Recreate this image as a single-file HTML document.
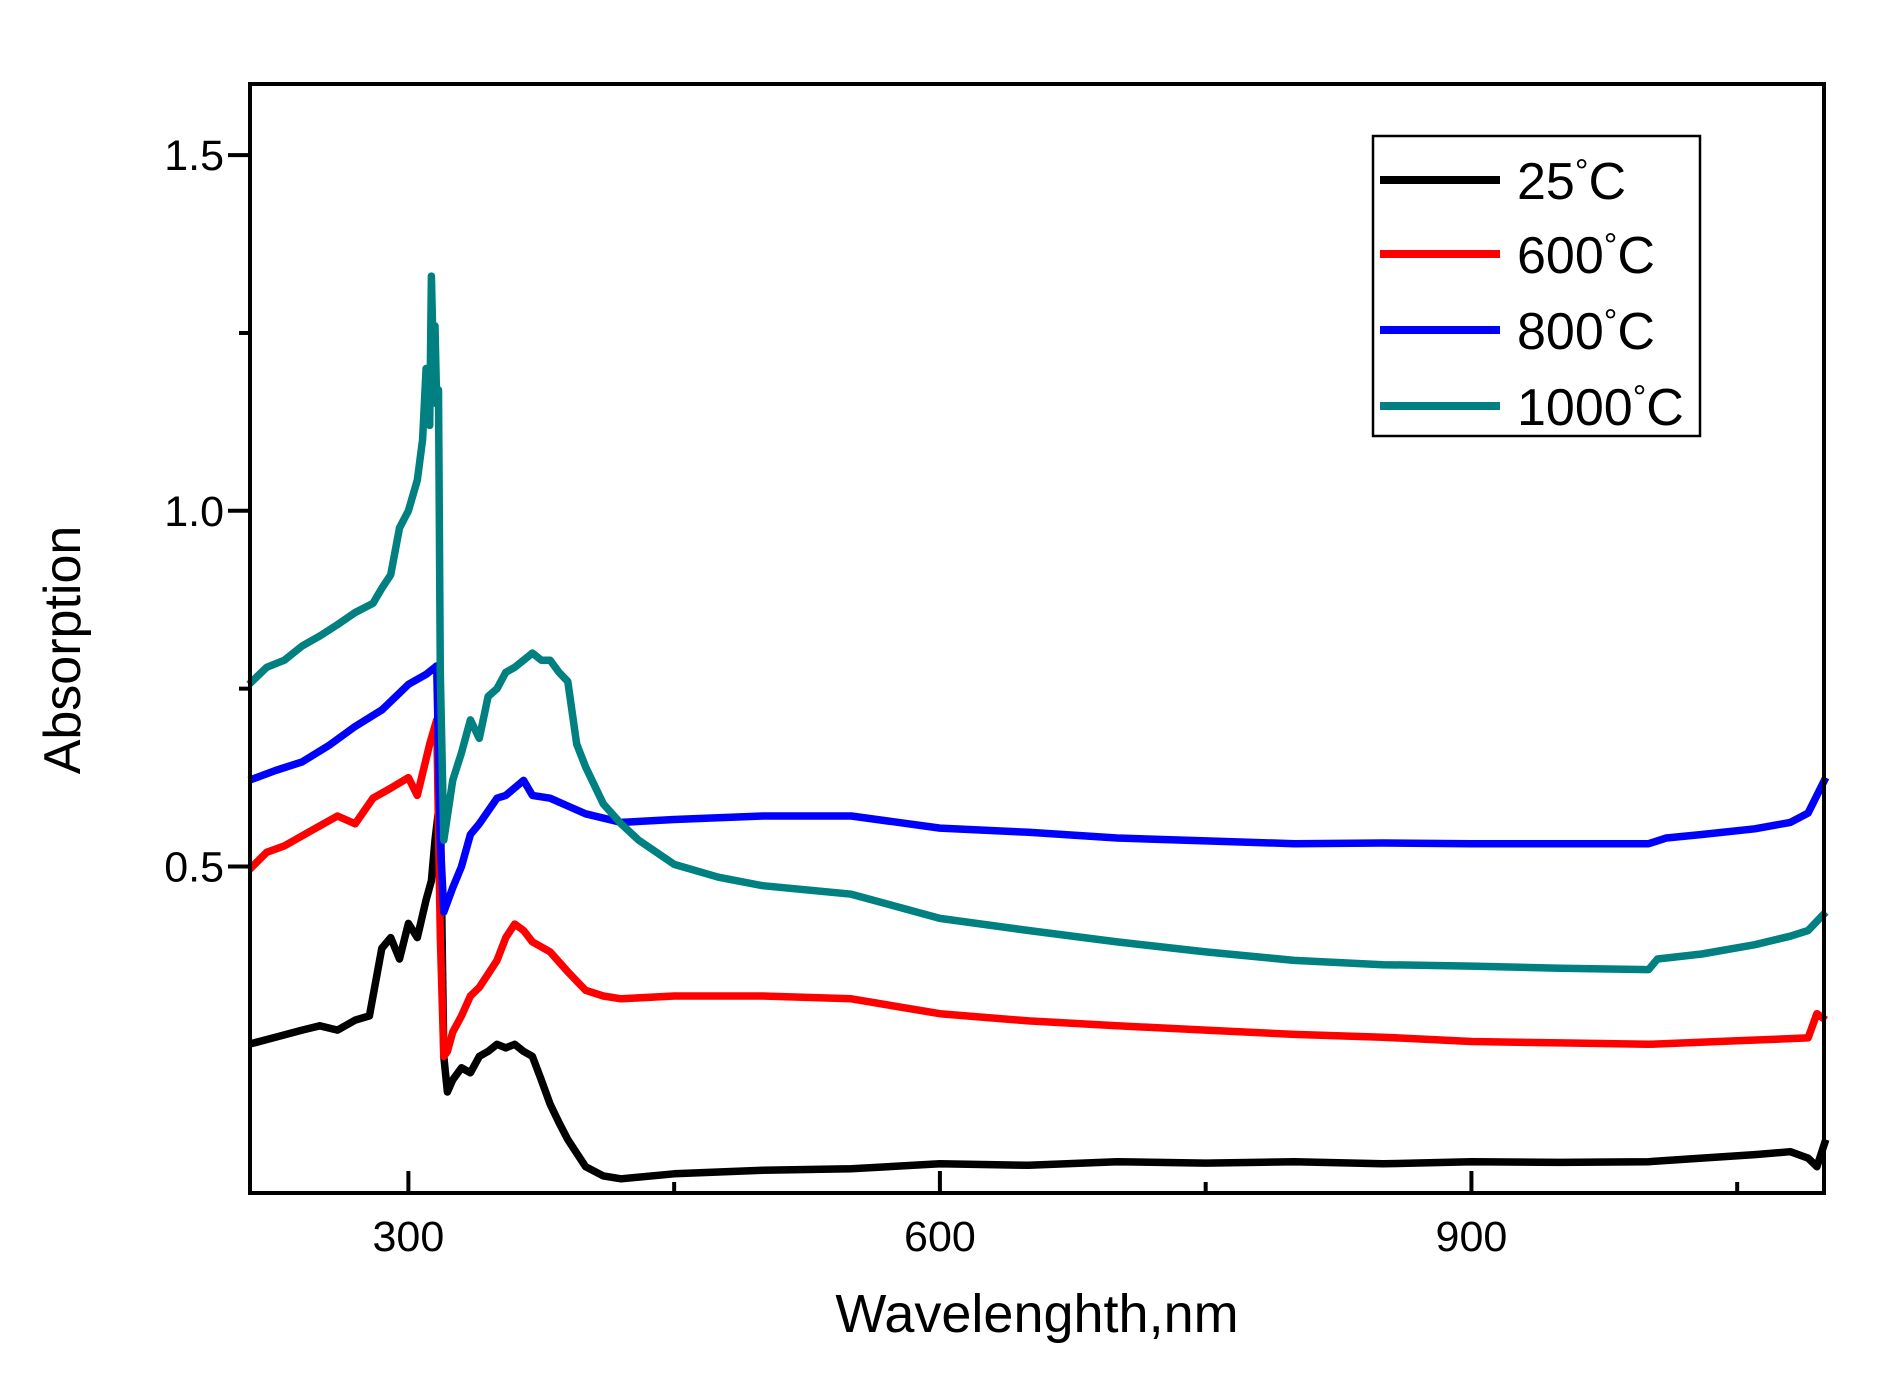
<!DOCTYPE html>
<html><head><meta charset="utf-8"><style>
html,body{margin:0;padding:0;background:#fff;}
svg{display:block;font-family:"Liberation Sans",sans-serif;}
</style></head><body>
<svg id="chart" width="1882" height="1397" viewBox="0 0 1882 1397" xmlns="http://www.w3.org/2000/svg">
<g id="series"></g>
<rect x="250" y="84" width="1574" height="1109" fill="none" stroke="#000" stroke-width="4"/>
<g id="ticks"></g>
<text x="1037" y="1332" font-size="54" text-anchor="middle">Wavelenghth,nm</text>
<text transform="translate(80,650) rotate(-90)" font-size="52" text-anchor="middle">Absorption</text>
<g>
<rect x="1373" y="136" width="327" height="300" fill="#fff" stroke="#000" stroke-width="2.5"/>
<g id="legend-entries"></g>
</g>
</svg>
<script>
const xTicks=[300,450,600,750,900,1050];
const xLabels=[300,600,900];
const yTicks=[0.5,0.75,1.0,1.25,1.5];
const yLabels=["0.5","1.0","1.5"];
const yLabelVals=[0.5,1.0,1.5];
const seriesNames=["25","600","800","1000"];
const seriesColors=["#000000","#ff0000","#0000ff","#008080"];
const wl0=[210,225,240,250,260,270,278,285,290,295,300,305,310,313,315,318,319,320,322,325,330,335,340,345,350,355,360,365,370,375,380,385,390,400,410,420,450,500,550,600,650,700,750,800,850,900,950,1000,1030,1060,1080,1090,1095,1100];
const v25=[0.25,0.26,0.27,0.276,0.27,0.284,0.29,0.385,0.40,0.37,0.42,0.40,0.453,0.48,0.537,0.60,0.40,0.233,0.183,0.20,0.217,0.21,0.233,0.24,0.25,0.245,0.25,0.24,0.233,0.20,0.166,0.14,0.116,0.078,0.065,0.061,0.068,0.073,0.075,0.082,0.080,0.085,0.083,0.085,0.082,0.085,0.084,0.085,0.09,0.095,0.099,0.09,0.078,0.116];
const wl1=[210,220,230,245,260,270,280,290,300,305,312,316,318,320,322,325,330,335,340,350,355,360,365,370,380,390,400,410,420,450,500,550,600,650,700,750,800,850,900,950,1000,1050,1090,1095,1100];
const v600=[0.495,0.52,0.529,0.55,0.571,0.56,0.596,0.61,0.625,0.60,0.672,0.706,0.402,0.233,0.24,0.267,0.29,0.318,0.33,0.368,0.40,0.419,0.41,0.394,0.38,0.352,0.326,0.318,0.314,0.318,0.318,0.314,0.293,0.283,0.276,0.27,0.264,0.26,0.254,0.252,0.25,0.255,0.259,0.293,0.284];
const wl2=[210,225,240,255,270,285,300,310,316,318,320,325,330,335,340,350,355,365,370,380,390,400,420,450,500,550,600,650,700,750,800,850,900,950,1000,1010,1030,1060,1080,1090,1100];
const v800=[0.621,0.635,0.647,0.67,0.697,0.72,0.756,0.77,0.782,0.537,0.436,0.47,0.50,0.545,0.56,0.596,0.60,0.621,0.60,0.596,0.585,0.574,0.562,0.566,0.571,0.571,0.554,0.548,0.540,0.536,0.532,0.533,0.532,0.532,0.532,0.54,0.545,0.553,0.562,0.575,0.625];
const wl3=[210,220,230,240,250,260,270,280,285,290,295,300,305,308,310,312,313,314,315,316,317,318,320,325,330,335,340,345,350,355,360,365,370,375,380,385,390,395,400,410,420,430,450,475,500,550,600,650,700,750,800,850,900,950,1000,1005,1030,1060,1080,1090,1100];
const v1000=[0.756,0.78,0.79,0.81,0.824,0.84,0.857,0.87,0.891,0.91,0.976,1.0,1.043,1.10,1.20,1.12,1.33,1.22,1.26,1.15,1.17,0.773,0.537,0.621,0.66,0.706,0.68,0.739,0.75,0.773,0.78,0.79,0.80,0.79,0.79,0.773,0.76,0.672,0.64,0.588,0.56,0.537,0.503,0.485,0.473,0.461,0.427,0.41,0.394,0.38,0.368,0.362,0.36,0.357,0.355,0.37,0.377,0.39,0.402,0.41,0.436];
const xs=[wl0,wl1,wl2,wl3], ys=[v25,v600,v800,v1000];
const X0=250,X1=1824,Y0=1193,Y1=84,xmin=210.6,xmax=1099,ymin=0.041,ymax=1.6;
function xScale(v){return X0+(v-xmin)/(xmax-xmin)*(X1-X0);}
function yScale(v){return Y0-(v-ymin)/(ymax-ymin)*(Y0-Y1);}
const NS="http://www.w3.org/2000/svg";
const sg=document.getElementById('series');
for(let s=0;s<4;s++){
  const p=document.createElementNS(NS,'polyline');
  
  
  p.setAttribute('points',xs[s].map((x,i)=>xScale(x).toFixed(1)+','+yScale(ys[s][i]).toFixed(1)).join(' '));
  p.setAttribute('fill','none');p.setAttribute('stroke',seriesColors[s]);
  p.setAttribute('stroke-width','7.5');p.setAttribute('stroke-linejoin','round');
  sg.appendChild(p);
}
const tg=document.getElementById('ticks');
xTicks.forEach(t=>{
  const l=document.createElementNS(NS,'line');
  
  
  const len=xLabels.includes(t)?22:11;
  l.setAttribute('x1',xScale(t));l.setAttribute('x2',xScale(t));
  l.setAttribute('y1',Y0);l.setAttribute('y2',Y0-len);
  l.setAttribute('stroke','#000');l.setAttribute('stroke-width','4');tg.appendChild(l);
});
xLabels.forEach(t=>{
  const e=document.createElementNS(NS,'text');
  
  
  e.setAttribute('x',xScale(t));e.setAttribute('y',1251);e.setAttribute('font-size','43');
  e.setAttribute('text-anchor','middle');e.textContent=t;tg.appendChild(e);
});
yTicks.forEach(t=>{
  const l=document.createElementNS(NS,'line');
  
  
  const len=yLabelVals.includes(t)?22:11;
  l.setAttribute('x1',X0);l.setAttribute('x2',X0-len);
  l.setAttribute('y1',yScale(t));l.setAttribute('y2',yScale(t));
  l.setAttribute('stroke','#000');l.setAttribute('stroke-width','4');tg.appendChild(l);
});
yLabelVals.forEach((t,i)=>{
  const e=document.createElementNS(NS,'text');
  
  
  e.setAttribute('x',224);e.setAttribute('y',yScale(t)+15);e.setAttribute('font-size','43');
  e.setAttribute('text-anchor','end');e.textContent=yLabels[i];tg.appendChild(e);
});
const lg=document.getElementById('legend-entries');
const ly=[180,254,330,406];
seriesNames.forEach((n,i)=>{
  const l=document.createElementNS(NS,'line');
  
  
  l.setAttribute('x1',1380);l.setAttribute('x2',1500);l.setAttribute('y1',ly[i]);l.setAttribute('y2',ly[i]);
  l.setAttribute('stroke',seriesColors[i]);l.setAttribute('stroke-width','8');lg.appendChild(l);
  const e=document.createElementNS(NS,'text');
  
  
  e.setAttribute('x',1517);e.setAttribute('y',ly[i]+19);e.setAttribute('font-size','52');
  e.appendChild(document.createTextNode(n));
  const d=document.createElementNS(NS,'tspan');
  d.setAttribute('font-size','34');d.setAttribute('dy','-16');d.textContent='°';
  e.appendChild(d);
  const c=document.createElementNS(NS,'tspan');
  c.setAttribute('dy','16');c.textContent='C';
  e.appendChild(c);
  lg.appendChild(e);
});
</script>
</body></html>
